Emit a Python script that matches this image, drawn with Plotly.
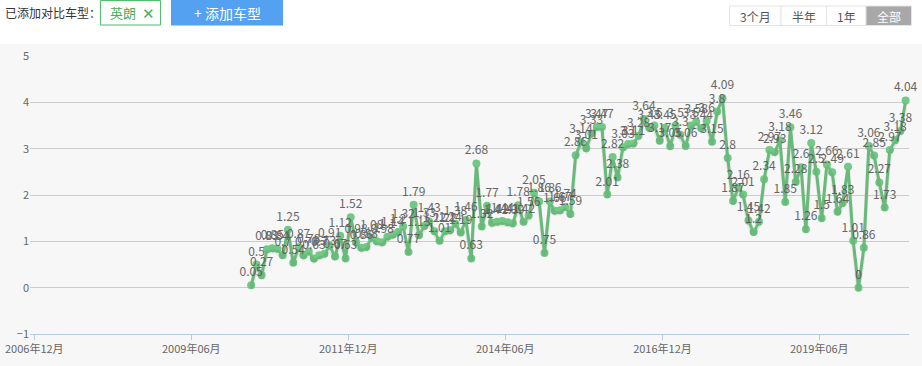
import plotly.graph_objects as go
import pandas as pd

# ---------------- data ----------------
start_month = "2010-05"
values = [
    0.05, 0.5, 0.27, 0.83, 0.85, 0.84, 0.7, 1.25, 0.54, 0.87,
    0.7, 0.78, 0.63, 0.7, 0.73, 0.91, 0.67, 1.12, 0.63, 1.52,
    0.98, 0.86, 0.88, 1.08, 1.0, 0.98, 1.1, 1.14, 1.2, 1.32,
    0.77, 1.79, 1.13, 1.33, 1.43, 1.22, 1.01, 1.22, 1.24, 1.38,
    1.19, 1.46, 0.63, 2.68, 1.32, 1.77, 1.4, 1.42, 1.44, 1.41,
    1.39, 1.78, 1.42, 1.56, 2.05, 1.86, 0.75, 1.86, 1.66, 1.67,
    1.74, 1.59, 2.86, 3.14, 3.01, 3.33, 3.47, 3.47, 2.01, 2.82,
    2.38, 3.03, 3.1, 3.11, 3.28, 3.64, 3.45, 3.5, 3.17, 3.45,
    3.05, 3.5, 3.3, 3.06, 3.5, 3.58, 3.44, 3.6, 3.15, 3.8,
    4.09, 2.8, 1.87, 2.16, 2.01, 1.45, 1.2, 1.42, 2.34, 2.97,
    2.93, 3.18, 1.85, 3.46, 2.28, 2.6, 1.26, 3.12, 2.5, 1.5,
    2.66, 2.49, 1.64, 1.83, 2.61, 1.01, 0, 0.86, 3.06, 2.85,
    2.27, 1.73, 2.97, 3.18, 3.38, 4.04,
]
tick_dates = ["2006-12-01", "2009-06-01", "2011-12-01", "2014-06-01", "2016-12-01", "2019-06-01"]
tick_labels = ["2006年12月", "2009年06月", "2011年12月", "2014年06月", "2016年12月", "2019年06月"]
y_ticks = [-1, 0, 1, 2, 3, 4, 5]
range_buttons = ["3个月", "半年", "1年", "全部"]
series_name = "英朗"

months = pd.date_range(start_month + "-01", periods=len(values), freq="MS") + pd.Timedelta(days=14)
labels = [f"{v:g}" for v in values]

# ---------------- layout geometry ----------------
W, H = 922, 366
L, R, T, B = 30, 13, 56, 32
PW, PH = W - L - R, H - T - B

t0 = pd.Timestamp("2006-12-01")
t1 = pd.Timestamp("2019-06-01")
px0, px1 = 34.3, 819.3
ms_per_px = (t1 - t0) / (px1 - px0)
x_left = t0 - (px0 - L) * ms_per_px
x_right = t0 + (W - R - px0) * ms_per_px


def xp(x):
    return (x - L) / PW


def yp(y):
    return (H - B - y) / PH


FONT = "Microsoft YaHei, Noto Sans CJK SC, sans-serif"
GREEN = "#72c986"

fig = go.Figure()

# soft shadow under the line
fig.add_trace(go.Scatter(
    x=months, y=values, mode="lines", yaxis="y2",
    line=dict(color="rgba(0,0,0,0.08)", width=4),
    hoverinfo="skip", showlegend=False,
))
fig.add_trace(go.Scatter(
    x=months, y=values, mode="lines+markers+text", name=series_name,
    line=dict(color=GREEN, width=3),
    marker=dict(color=GREEN, size=8),
    text=labels, textposition="top center",
    textfont=dict(family=FONT, size=12, color="#666666"),
    cliponaxis=False, showlegend=False,
))

shapes = []
annotations = []

# white header band
shapes.append(dict(type="rect", xref="paper", yref="paper", x0=xp(-5), x1=xp(W + 5),
                   y0=yp(44), y1=yp(-5), fillcolor="white", line=dict(width=0), layer="below"))
annotations.append(dict(xref="paper", yref="paper", x=xp(3), y=yp(12.5), xanchor="left", yanchor="middle",
                        text="已添加对比车型：", showarrow=False,
                        font=dict(family=FONT, size=12, color="#333333")))
# selected model tag
shapes.append(dict(type="rect", xref="paper", yref="paper", x0=xp(100.5), x1=xp(160.5),
                   y0=yp(25), y1=yp(0.5), fillcolor="white", line=dict(color="#4fbf6a", width=1)))
annotations.append(dict(xref="paper", yref="paper", x=xp(123), y=yp(12.5), xanchor="center", yanchor="middle",
                        text=series_name, showarrow=False, font=dict(family=FONT, size=13, color="#4cae5c")))
annotations.append(dict(xref="paper", yref="paper", x=xp(148), y=yp(12.5), xanchor="center", yanchor="middle",
                        text="✕", showarrow=False, font=dict(family=FONT, size=15, color="#4cae5c")))
# add button
shapes.append(dict(type="rect", xref="paper", yref="paper", x0=xp(171), x1=xp(283),
                   y0=yp(25.5), y1=yp(0), fillcolor="#55a1f1", line=dict(width=0)))
annotations.append(dict(xref="paper", yref="paper", x=xp(227), y=yp(12.5), xanchor="center", yanchor="middle",
                        text="+ 添加车型", showarrow=False, font=dict(family=FONT, size=14, color="white")))
# range buttons
edges = [729.5, 781, 826.5, 866, 911.5]
for i, lab in enumerate(range_buttons):
    active = i == len(range_buttons) - 1
    shapes.append(dict(type="rect", xref="paper", yref="paper", x0=xp(edges[i]), x1=xp(edges[i + 1]),
                       y0=yp(25.5), y1=yp(6), fillcolor="#a8a8a8" if active else "white",
                       line=dict(color="#e4e4e4", width=1)))
    annotations.append(dict(xref="paper", yref="paper", x=xp((edges[i] + edges[i + 1]) / 2), y=yp(16),
                            xanchor="center", yanchor="middle", text=lab, showarrow=False,
                            font=dict(family=FONT, size=12, color="white" if active else "#555555")))

shadow_shift = 3 / PH * 6
fig.update_layout(
    width=W, height=H,
    margin=dict(l=L, r=R, t=T, b=B, pad=0, autoexpand=False),
    paper_bgcolor="#f7f7f7", plot_bgcolor="rgba(0,0,0,0)",
    font=dict(family=FONT, size=11, color="#666666"),
    xaxis=dict(type="date", range=[x_left, x_right], tickvals=tick_dates, ticktext=tick_labels,
               showgrid=False, zeroline=False, showline=True, linecolor="#b9cbe3", linewidth=1,
               ticks="outside", ticklen=5, tickcolor="#b9cbe3", automargin=False,
               tickfont=dict(family=FONT, size=11, color="#666666")),
    yaxis=dict(range=[-1, 5], tickvals=y_ticks, showgrid=True, gridcolor="#cccccc", gridwidth=1,
               zeroline=False, showline=False, ticks="", automargin=False,
               tickfont=dict(family=FONT, size=11, color="#666666")),
    yaxis2=dict(range=[-1 + shadow_shift, 5 + shadow_shift], overlaying="y", visible=False,
                automargin=False),
    shapes=shapes, annotations=annotations,
    showlegend=False,
)

fig.write_html(
    "out.html",
    config={"displayModeBar": False},
    post_script="document.body.style.margin='0';document.body.style.overflow='hidden';",
)
